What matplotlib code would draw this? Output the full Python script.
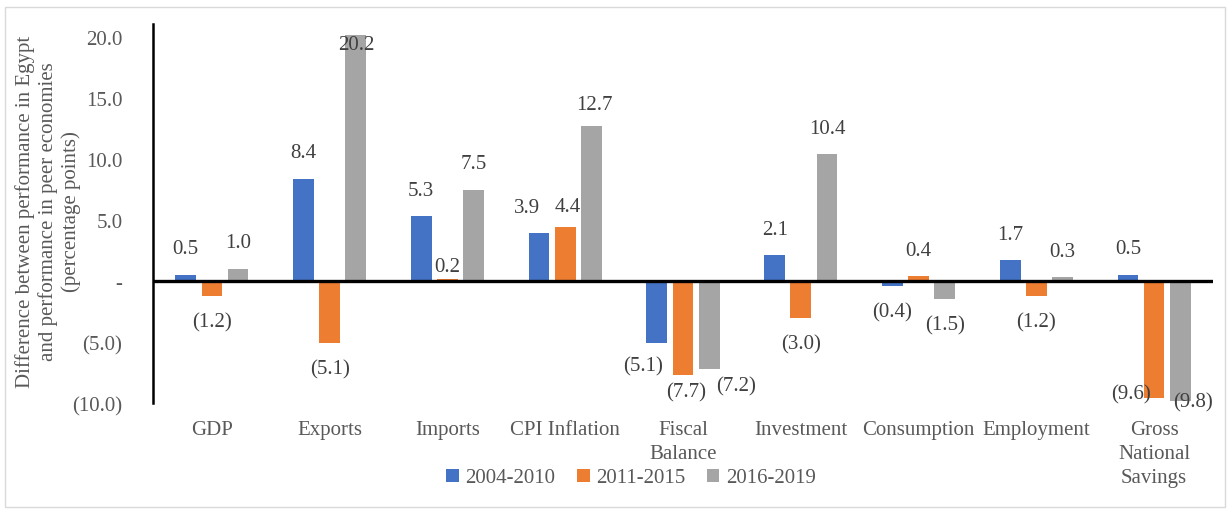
import numpy as np
import matplotlib.pyplot as plt
from matplotlib.patches import Rectangle

plt.rcParams['font.family'] = ['Liberation Serif', 'DejaVu Serif']

categories = ["GDP", "Exports", "Imports", "CPI Inflation", "Fiscal\nBalance",
              "Investment", "Consumption", "Employment", "Gross\nNational\nSavings"]
series = ["2004-2010", "2011-2015", "2016-2019"]
v_2004_2010 = [0.5, 8.4, 5.3, 3.9, -5.1, 2.1, -0.4, 1.7, 0.5]
v_2011_2015 = [-1.2, -5.1, 0.2, 4.4, -7.7, -3.0, 0.4, -1.2, -9.6]
v_2016_2019 = [1.0, 20.2, 7.5, 12.7, -7.2, 10.4, -1.5, 0.3, -9.8]
values = [v_2004_2010, v_2011_2015, v_2016_2019]
colors = ["#4472C4", "#ED7D31", "#A5A5A5"]

# manual label nudges (px), as placed in the original chart
nudges = {(0, 3): (-12, 0), (1, 3): (3, 5), (2, 3): (3, 4),
          (1, 2): (0, 14), (2, 1): (0, 36),
          (0, 4): (-14, -3), (1, 4): (3, -9), (2, 4): (27, -9),
          (1, 8): (-23, -30), (2, 8): (13, -25)}

def fmt(v):
    if abs(v) < 1e-9:
        return "-"
    return "(%.1f)" % abs(v) if v < 0 else "%.1f" % v

fig = plt.figure(figsize=(12.28, 5.10), dpi=100)
ax = fig.add_axes([153/1228, 1-404/510, 1060/1228, 379/510])

x = np.arange(len(categories))
w = 0.176
step = 0.222
fs = 15
for s in range(3):
    xs = x + (s - 1) * step
    ax.bar(xs, values[s], width=w, color=colors[s], label=series[s], zorder=2)
    for i, v in enumerate(values[s]):
        dx, dy = nudges.get((s, i), (0, 0))
        off = 26 if v >= 0 else -26
        ax.annotate(fmt(v), (xs[i], v), xytext=(dx, off - dy), textcoords='offset pixels',
                    ha='center', va='center', fontsize=fs, color="#404040",
                    annotation_clip=False)

ax.axhline(0, color='black', lw=2.4, zorder=3)
ax.set_xlim(-0.5, len(categories) - 0.5)
ax.set_ylim(-10, 21.07)
ax.set_yticks(np.arange(-10, 21, 5))
ax.set_yticklabels([fmt(t) for t in np.arange(-10, 21, 5)])
ax.set_xticks(x)
ax.set_xticklabels(categories, va='top', linespacing=1.38)
ax.tick_params(axis='y', length=0, pad=22, labelsize=fs, labelcolor="#595959")
ax.tick_params(axis='x', length=0, pad=12, labelsize=fs, labelcolor="#595959")
for sp in ['top', 'right', 'bottom']:
    ax.spines[sp].set_visible(False)
ax.spines['left'].set_linewidth(1.8)
ax.spines['left'].set_color('black')

fig.text(48/1228, 1-212/510,
         "Difference between performance in Egypt\nand performance in peer economies\n(percentage points)",
         rotation=90, ha='center', va='center', fontsize=fs, color="#595959", linespacing=1.2)

leg = fig.legend(loc='center', bbox_to_anchor=(631/1228, 1-479/510), ncol=3, frameon=False,
                 fontsize=fs, handlelength=0.6, handleheight=0.6, handletextpad=0.3,
                 columnspacing=1.05)
for t in leg.get_texts():
    t.set_color("#595959")

fig.patches.append(Rectangle((5/1228, 2/510), 1220/1228, 500/510, transform=fig.transFigure,
                             fill=False, edgecolor='#d9d9d9', lw=1))

fig.savefig("out.png", dpi=100)
